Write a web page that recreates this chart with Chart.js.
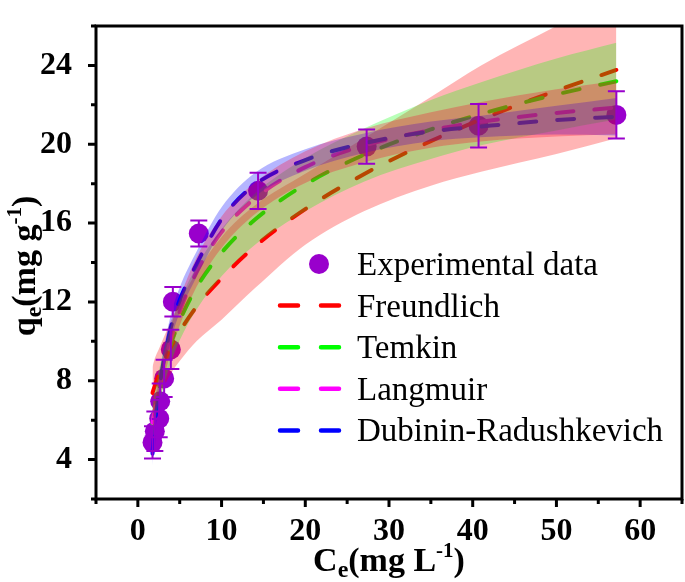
<!DOCTYPE html>
<html>
<head>
<meta charset="utf-8">
<script src="https://cdn.jsdelivr.net/npm/chart.js@4.4.0/dist/chart.umd.min.js"></script>
<style>
  html, body { margin: 0; padding: 0; background: #fff; }
  #wrap { width: 685px; height: 582px; }
</style>
</head>
<body>
<div id="wrap"><canvas id="isoChart" width="685" height="582"></canvas></div>
<script>
// Experimental points: Ce (mg/L), qe (mg/g), error bar half height
const expCe  = [1.75, 2.03, 2.55, 2.67, 3.14, 3.94, 4.18, 7.28, 14.36, 27.33, 40.7, 57.16];
const expQe  = [4.87, 5.44, 6.08, 6.96, 8.12, 9.59, 12.01, 15.47, 17.64, 19.88, 20.94, 21.49];
const expErr = [0.82, 1.0, 0.95, 0.9, 0.95, 1.0, 0.75, 0.66, 0.92, 0.87, 1.1, 1.2];

// Fitted curves and their bands, read at these Ce values
const fitCe = [1.75, 2, 2.5, 3, 4, 5, 7, 10, 14, 20, 27, 35, 41, 50, 57.16];

const freundFit  = [7.38, 7.72, 8.32, 8.84, 9.74, 10.50, 11.75, 13.20, 14.82, 16.71, 18.48, 20.16, 21.26, 22.72, 23.77];
const freundLow  = [6.0, 6.5, 7.1, 7.6, 8.4, 9.0, 10.0, 11.1, 12.7, 14.9, 16.6, 17.9, 18.6, 19.5, 20.3];
const freundHigh = [8.7, 9.1, 9.6, 10.1, 11.1, 12.0, 13.5, 15.3, 16.9, 18.5, 20.3, 22.4, 24.0, 26.0, 27.6];

const temkinFit  = [5.82, 6.48, 7.59, 8.50, 9.94, 11.05, 12.73, 14.50, 16.18, 17.96, 19.46, 20.75, 21.54, 22.53, 23.20];
const temkinLow  = [4.9, 5.6, 6.7, 7.6, 9.0, 10.05, 11.6, 13.3, 14.9, 16.6, 18.1, 19.25, 19.95, 20.7, 21.25];
const temkinHigh = [6.7, 7.4, 8.5, 9.4, 10.9, 12.05, 13.8, 15.7, 17.5, 19.3, 20.8, 22.25, 23.15, 24.35, 25.15];

const langFit  = [5.86, 6.47, 7.57, 8.55, 10.18, 11.50, 13.51, 15.54, 17.26, 18.84, 19.93, 20.72, 21.14, 21.59, 21.86];
const langLow  = [5.26, 5.87, 6.97, 7.95, 9.53, 10.8, 12.76, 14.74, 16.46, 18.04, 19.08, 19.82, 20.14, 20.39, 20.51];
const langHigh = [6.46, 7.07, 8.17, 9.15, 10.83, 12.2, 14.26, 16.34, 18.06, 19.64, 20.78, 21.62, 22.14, 22.79, 23.21];

const drFit  = [4.3, 5.7, 7.4, 8.8, 10.8, 12.1, 13.9, 16.2, 17.95, 19.2, 20.05, 20.65, 20.9, 21.23, 21.4];
const drLow  = [3.7, 5.1, 6.8, 8.2, 10.15, 11.45, 13.25, 15.6, 17.35, 18.65, 19.55, 20.15, 20.35, 20.5, 20.45];
const drHigh = [4.9, 6.3, 8.0, 9.4, 11.45, 12.75, 14.55, 16.8, 18.55, 19.75, 20.55, 21.15, 21.45, 21.95, 22.35];

const xTicks = [0, 10, 20, 30, 40, 50, 60];
const yTicks = [4, 8, 12, 16, 20, 24];
const xMinor = [-5, 5, 15, 25, 35, 45, 55, 65];
const yMinor = [2, 6, 10, 14, 18, 22, 26];

const legendLabels = ['Experimental data', 'Freundlich', 'Temkin', 'Langmuir', 'Dubinin-Radushkevich'];

const purple = 'rgb(153,0,204)';
const lineColors = ['#FF0000', '#00FF00', '#FF00FF', '#0000FF'];
const serifFont = '"Liberation Serif", serif';

function pts(xs, ys) { return xs.map((x, i) => ({ x: x, y: ys[i] })); }

function fitLine(label, ys, color, order) {
  return {
    label: label, data: pts(fitCe, ys), borderColor: color, borderWidth: 4,
    borderDash: [17, 21], borderCapStyle: 'round', pointRadius: 0,
    cubicInterpolationMode: 'monotone', fill: false, order: order
  };
}
function bandLow(ys, order) {
  return { data: pts(fitCe, ys), borderWidth: 0, pointRadius: 0,
    cubicInterpolationMode: 'monotone', fill: false, order: order };
}
function bandHigh(ys, color, order) {
  return { data: pts(fitCe, ys), borderWidth: 0, pointRadius: 0, backgroundColor: color,
    cubicInterpolationMode: 'monotone', fill: '-1', order: order };
}

// error bars on top of the bands
const errorBars = {
  id: 'errorBars',
  afterDatasetsDraw(chart) {
    const { ctx, scales: { x, y } } = chart;
    ctx.save();
    ctx.strokeStyle = purple;
    ctx.lineWidth = 2;
    expCe.forEach((c, i) => {
      const px = x.getPixelForValue(c);
      const top = y.getPixelForValue(expQe[i] + expErr[i]);
      const bot = y.getPixelForValue(expQe[i] - expErr[i]);
      ctx.beginPath();
      ctx.moveTo(px, top); ctx.lineTo(px, bot);
      ctx.moveTo(px - 8.5, top); ctx.lineTo(px + 8.5, top);
      ctx.moveTo(px - 8.5, bot); ctx.lineTo(px + 8.5, bot);
      ctx.stroke();
    });
    ctx.restore();
  }
};

// text with sub/superscripts
function richText(ctx, parts, x, y, align) {
  let w = 0;
  parts.forEach(p => { ctx.font = 'bold ' + p.size + 'px ' + serifFont; w += ctx.measureText(p.t).width; });
  let cx = align === 'center' ? x - w / 2 : x;
  parts.forEach(p => {
    ctx.font = 'bold ' + p.size + 'px ' + serifFont;
    ctx.fillText(p.t, cx, y + (p.dy || 0));
    cx += ctx.measureText(p.t).width;
  });
}

// frame, tick marks, axis titles, legend
const decor = {
  id: 'decor',
  afterDraw(chart) {
    const { ctx, chartArea: a, scales: { x, y } } = chart;
    ctx.save();
    ctx.strokeStyle = '#000';
    ctx.lineWidth = 3;
    ctx.strokeRect(a.left, a.top, a.right - a.left, a.bottom - a.top);
    ctx.beginPath();
    xTicks.forEach(v => { const p = x.getPixelForValue(v); ctx.moveTo(p, a.bottom); ctx.lineTo(p, a.bottom + 8); });
    xMinor.forEach(v => { const p = x.getPixelForValue(v); ctx.moveTo(p, a.bottom); ctx.lineTo(p, a.bottom + 5); });
    yTicks.forEach(v => { const p = y.getPixelForValue(v); ctx.moveTo(a.left, p); ctx.lineTo(a.left - 8, p); });
    yMinor.forEach(v => { const p = y.getPixelForValue(v); ctx.moveTo(a.left, p); ctx.lineTo(a.left - 5, p); });
    ctx.stroke();

    ctx.fillStyle = '#000';
    ctx.textBaseline = 'alphabetic';
    ctx.textAlign = 'left';
    richText(ctx, [
      { t: 'C', size: 34 }, { t: 'e', size: 24, dy: 6 }, { t: '(mg L', size: 34 },
      { t: '-1', size: 21, dy: -14 }, { t: ')', size: 34 }
    ], (a.left + a.right) / 2, 571, 'center');

    ctx.save();
    ctx.translate(35, 266);
    ctx.rotate(-Math.PI / 2);
    richText(ctx, [
      { t: 'q', size: 34 }, { t: 'e', size: 24, dy: 6 }, { t: '(mg g', size: 34 },
      { t: '-1', size: 21, dy: -14 }, { t: ')', size: 34 }
    ], 0, 0, 'center');
    ctx.restore();

    // legend
    const lx = 278, rowY = 264, rowH = 41.6;
    ctx.font = '33px ' + serifFont;
    legendLabels.forEach((lab, i) => {
      const cy = rowY + i * rowH;
      if (i === 0) {
        ctx.fillStyle = purple;
        ctx.beginPath(); ctx.arc(319, cy, 10, 0, Math.PI * 2); ctx.fill();
      } else {
        ctx.strokeStyle = lineColors[i - 1];
        ctx.lineWidth = 4.5;
        ctx.lineCap = 'round';
        ctx.beginPath();
        ctx.moveTo(lx + 2, cy); ctx.lineTo(lx + 20, cy);
        ctx.moveTo(lx + 43, cy); ctx.lineTo(lx + 61, cy);
        ctx.stroke();
      }
      ctx.fillStyle = '#000';
      ctx.fillText(lab, 357, cy + 11);
    });
    ctx.restore();
  }
};

const tickFont = { family: serifFont, size: 32, weight: 'bold' };
// the plot box is placed by layout padding only, so drop the label overhang padding
const noPad = s => { s.paddingTop = 0; s.paddingBottom = 0; s.paddingLeft = 0; s.paddingRight = 0; };

new Chart(document.getElementById('isoChart'), {
  type: 'line',
  data: {
    datasets: [
      { label: legendLabels[0], data: pts(expCe, expQe), showLine: false, pointRadius: 10,
        pointHoverRadius: 10, pointBackgroundColor: purple, pointBorderWidth: 0, order: 20 },
      fitLine(legendLabels[1], freundFit, lineColors[0], 15),
      fitLine(legendLabels[2], temkinFit, lineColors[1], 14),
      fitLine(legendLabels[3], langFit, lineColors[2], 13),
      fitLine(legendLabels[4], drFit, lineColors[3], 12),
      bandLow(freundLow, 9), bandHigh(freundHigh, 'rgba(255,0,0,0.29)', 9),
      bandLow(temkinLow, 8), bandHigh(temkinHigh, 'rgba(0,255,0,0.28)', 8),
      bandLow(drLow, 7), bandHigh(drHigh, 'rgba(0,0,255,0.29)', 7),
      bandLow(langLow, 6), bandHigh(langHigh, 'rgba(255,0,40,0.29)', 6)
    ]
  },
  options: {
    responsive: false,
    animation: false,
    devicePixelRatio: 1,
    layout: { autoPadding: false, padding: { top: 26, right: 3, left: 0, bottom: 0 } },
    plugins: { legend: { display: false }, tooltip: { enabled: false } },
    scales: {
      x: {
        type: 'linear', min: -5, max: 65,
        afterBuildTicks: s => { s.ticks = xTicks.map(v => ({ value: v })); },
        afterFit: s => { s.height = 83; noPad(s); },
        grid: { display: false }, border: { display: false },
        ticks: { font: tickFont, color: '#000', padding: 6, maxRotation: 0, autoSkip: false }
      },
      y: {
        type: 'linear', min: 2, max: 26,
        afterBuildTicks: s => { s.ticks = yTicks.map(v => ({ value: v })); },
        afterFit: s => { s.width = 96; noPad(s); },
        grid: { display: false }, border: { display: false },
        ticks: { font: tickFont, color: '#000', padding: 16, autoSkip: false }
      }
    }
  },
  plugins: [errorBars, decor]
});
</script>
</body>
</html>
